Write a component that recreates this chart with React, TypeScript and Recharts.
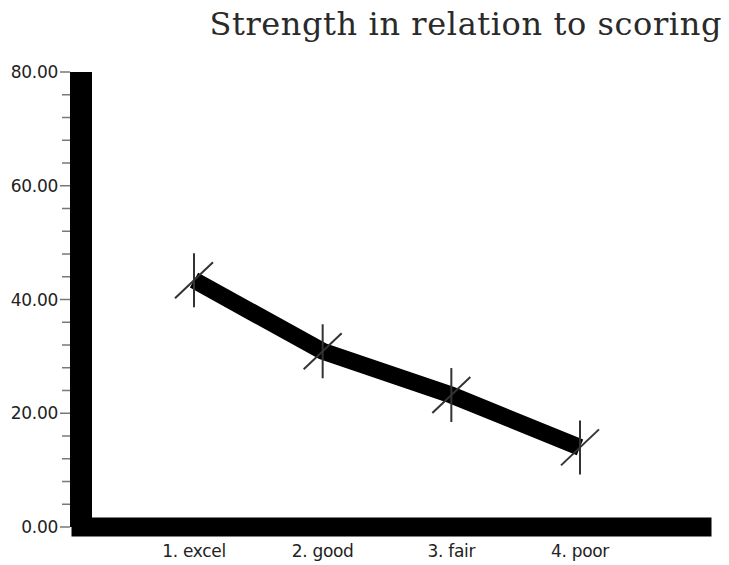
import { LineChart, Line, XAxis, YAxis } from "recharts";

// scores
const categories = ["1. excel", "2. good", "3. fair", "4. poor"];
const strength = [43.4, 30.9, 23.2, 14.0];
const yTicks = [0, 4, 8, 12, 16, 20, 24, 28, 32, 36, 40, 44, 48, 52, 56, 60, 64, 68, 72, 76, 80];
const yLabelled = [0, 20, 40, 60, 80];

const data = categories.map((label, i) => ({ label, strength: strength[i] }));

function YTick(props: any) {
    const { x, y, payload } = props;
    const showLabel = yLabelled.includes(payload.value);
    return (
        <g>
            <line x1={x + (showLabel ? 2 : 4)} x2={x + 12} y1={y} y2={y} stroke="#777" strokeWidth={1.5} />
            {showLabel && (
                <text x={x} y={y} dy="0.36em" textAnchor="end" fontSize={17} fill="#222" fontFamily="DejaVu Sans" letterSpacing={-0.3}>
                    {payload.value.toFixed(2)}
                </text>
            )}
        </g>
    );
}

function StarDot(props: any) {
    const { cx, cy, index } = props;
    if (cx == null || cy == null) return <g key={`d-${index}`} />;
    return (
        <g key={`d-${index}`} stroke="#333" strokeWidth={2}>
            <line x1={cx} y1={cy - 27} x2={cx} y2={cy + 27} />
            <line x1={cx - 19} y1={cy + 18} x2={cx + 19} y2={cy - 18} />
        </g>
    );
}

export default function App() {
    return (
        <div style={{ position: "absolute", left: 0, top: 0, width: 729, height: 565, background: "#fff" }}>
            <div
                style={{
                    position: "absolute",
                    left: 0,
                    top: 8,
                    width: 722,
                    textAlign: "right",
                    fontFamily: "DejaVu Serif",
                    fontSize: 32,
                    lineHeight: "32px",
                    letterSpacing: 0.6,
                    color: "#2a2a2a",
                    whiteSpace: "nowrap",
                }}
            >
                Strength in relation to scoring
            </div>
            <LineChart width={729} height={565} data={data} margin={{ top: 72, right: 27, bottom: 0, left: 0 }}>
                <XAxis
                    dataKey="label"
                    height={38}
                    padding={{ left: 113, right: 122 }}
                    axisLine={{ stroke: "#000", strokeWidth: 19, strokeLinecap: "square" }}
                    tickLine={false}
                    tickSize={0}
                    tickMargin={18}
                    tick={{ fontSize: 17, fill: "#222", fontFamily: "DejaVu Sans", letterSpacing: -0.3 }}
                />
                <YAxis
                    width={81}
                    domain={[0, 80]}
                    ticks={yTicks}
                    interval={0}
                    axisLine={{ stroke: "#000", strokeWidth: 22 }}
                    tickLine={false}
                    tickSize={21}
                    tickMargin={2}
                    tick={<YTick />}
                />
                <Line
                    dataKey="strength"
                    stroke="#000"
                    strokeWidth={17}
                    dot={StarDot}
                    activeDot={false}
                    isAnimationActive={false}
                />
            </LineChart>
        </div>
    );
}
